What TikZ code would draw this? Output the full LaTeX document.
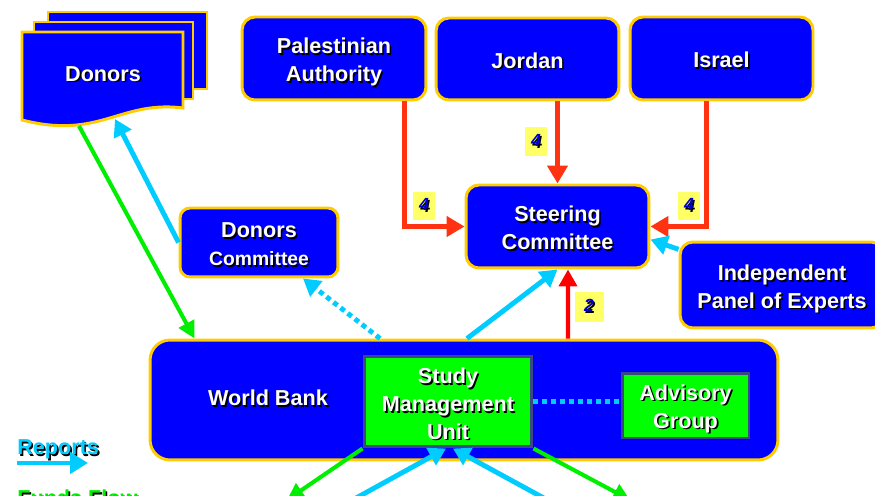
\documentclass[tikz,border=0pt]{standalone}
\usepackage{fontspec}
\setmainfont{Liberation Sans}
\usetikzlibrary{arrows.meta}

\definecolor{wbblue}{HTML}{0000FF}
\definecolor{rimgold}{HTML}{FFCC00}
\definecolor{smugreen}{HTML}{00FF00}
\definecolor{smurim}{HTML}{3A4A80}
\definecolor{rptcyan}{HTML}{00CCFF}
\definecolor{fundgreen}{HTML}{00EE00}
\definecolor{votered}{HTML}{FF3311}
\definecolor{tagyellow}{HTML}{FFFF66}
\definecolor{tagblue}{HTML}{0000CC}

% lettering with a dark drop shadow, one or more lines; #1 sinks it a little
\newcommand{\shtext}[2][2.6pt]{%
  \raisebox{-#1}[\height][\depth]{%
  \rlap{\kern0.9pt\raisebox{-0.9pt}{\color{black}\begin{tabular}{@{}c@{}}#2\end{tabular}}}%
  \begin{tabular}{@{}c@{}}#2\end{tabular}}}
\newcommand{\boxfont}{\bfseries\fontsize{12.3}{15.8}\selectfont}

\tikzset{
  party/.style={draw=rimgold, fill=wbblue, line width=1.7pt, rounded corners=0.26cm,
    text=white, font=\boxfont, inner sep=0pt},
  unit/.style={draw=smurim, fill=smugreen, line width=1.7pt, text=white, font=\boxfont, inner sep=0pt},
  sheet/.style={draw=rimgold, fill=wbblue, line width=1.7pt},
  tag/.style={fill=tagyellow, minimum width=0.44cm, minimum height=0.58cm, inner sep=0pt,
    text=tagblue, font=\bfseries\itshape\fontsize{10}{12}\selectfont},
  vote/.style={draw=votered, line width=2.8pt, -{Triangle[length=0.36cm,width=0.4cm]}},
  wbvote/.style={draw=red, line width=2.3pt, -{Triangle[length=0.34cm,width=0.36cm]}},
  report/.style={draw=rptcyan, line width=2.8pt, -{Triangle[length=0.34cm,width=0.38cm]}},
  funds/.style={draw=fundgreen, line width=2.3pt, -{Triangle[length=0.34cm,width=0.34cm]}},
  squaredots/.style={dash pattern=on 0.1cm off 0.08cm}
}

\begin{document}
\begin{tikzpicture}[x=0.02cm, y=-0.02cm]
  \clip (0,0) rectangle (875,496);

  % donors: a small stack of documents
  \draw[sheet] (48,12) rectangle (207,89);
  \draw[sheet] (34,22) rectangle (193,99);
  \draw[sheet] (22,32) -- (183,32) -- (183,108) .. controls (120,100) and (100,140) .. (22,120) -- cycle;
  \node[text=white, font=\boxfont] (donors) at (103,72) {\shtext{Donors}};
  \coordinate (docin) at (115,119);
  \coordinate (docout) at (79,126);

  % the three parties and the committees
  \node[party, minimum width=3.68cm, minimum height=1.66cm] (pa) at (334,58.5) {\shtext{Palestinian\\Authority}};
  \node[party, minimum width=3.66cm, minimum height=1.64cm] (jo) at (527.5,59) {\shtext{Jordan}};
  \node[party, minimum width=3.66cm, minimum height=1.66cm] (is) at (721.5,58.5) {\shtext{Israel}};
  \node[party, minimum width=3.66cm, minimum height=1.66cm] (steer) at (557.5,226.5) {\shtext{Steering\\Committee}};
  \node[party, minimum width=3.16cm, minimum height=1.38cm, rounded corners=0.2cm] (dc) at (259,242.5)
    {\shtext{Donors\\{\fontsize{11}{13}\selectfont Committee}}};
  \node[party, minimum width=4.08cm, minimum height=1.72cm] (ipe) at (782,285) {\shtext{Independent\\Panel of Experts}};

  % world bank and the units inside it
  \node[party, minimum width=12.56cm, minimum height=2.4cm, rounded corners=0.4cm] (wb) at (464,400) {};
  \node[text=white, font=\boxfont] (wbname) at (268,398) {\shtext[1.6pt]{World Bank}};
  \node[unit, minimum width=3.36cm, minimum height=1.82cm] (smu) at (448,401.5) {\shtext[3pt]{Study\\Management\\Unit}};
  \node[unit, minimum width=2.54cm, minimum height=1.3cm] (ag) at (685.5,405.5) {\shtext[2.2pt]{Advisory\\Group}};

  % votes
  \draw[vote] ([xshift=-0.46cm]pa.south east) |- (steer.west);
  \draw[vote] (jo.south -| steer.north) -- (steer.north);
  \draw[vote] ([xshift=1.56cm]is.south west) |- (steer.east);
  \draw[wbvote] ([xshift=2.08cm]wb.north) -- ([xshift=0.21cm]steer.south);
  \foreach \nm/\x/\y in {tagpa/424/206, tagjo/536/142, tagis/689/206}
    \node[tag] (\nm) at (\x,\y) {\shtext[0.6pt]{4}};
  \node[tag, minimum width=0.58cm, minimum height=0.6cm] (tagwb) at (589,307) {\shtext[0.6pt]{2}};

  % reports
  \draw[report] (ipe.161) -- (steer.-8);
  \draw[report] ([xshift=0.06cm]wb.north) -- (steer.south);
  \draw[report, squaredots] ([xshift=-1.68cm]wb.north) -- ([xshift=0.88cm]dc.south);
  \draw[report] (dc.west) -- (docin);
  \draw[report, squaredots, -] (smu.east) -- (smu.east -| ag.west);

  % funds
  \draw[funds] (docout) -- ([xshift=0.92cm]wb.north west);

  % flows leaving the bottom
  \coordinate (gl) at (287,500);
  \coordinate (gr) at (630,500);
  \coordinate (cl) at (338,508);
  \coordinate (cr) at (562,508);
  \draw[funds] (smu.south west) -- (gl);
  \draw[funds] (smu.south east) -- (gr);
  \draw[report] (cl) -- ([xshift=-0.04cm]smu.south);
  \draw[report] (cr) -- ([xshift=0.1cm]smu.south);

  % key
  \node[text=rptcyan, font=\boxfont, anchor=west, inner sep=0pt] (keyrep) at (17,447) {\shtext[1.6pt]{Reports}};
  \coordinate (rep0) at (17,463);
  \coordinate (rep1) at (88,463);
  \draw[report, -{Triangle[length=0.36cm,width=0.42cm]}] (rep0) -- (rep1);
  \node[text=fundgreen, font=\boxfont, anchor=west, inner sep=0pt] (keyfund) at (17,498) {\shtext[1.6pt]{Funds Flow}};
\end{tikzpicture}
\end{document}
